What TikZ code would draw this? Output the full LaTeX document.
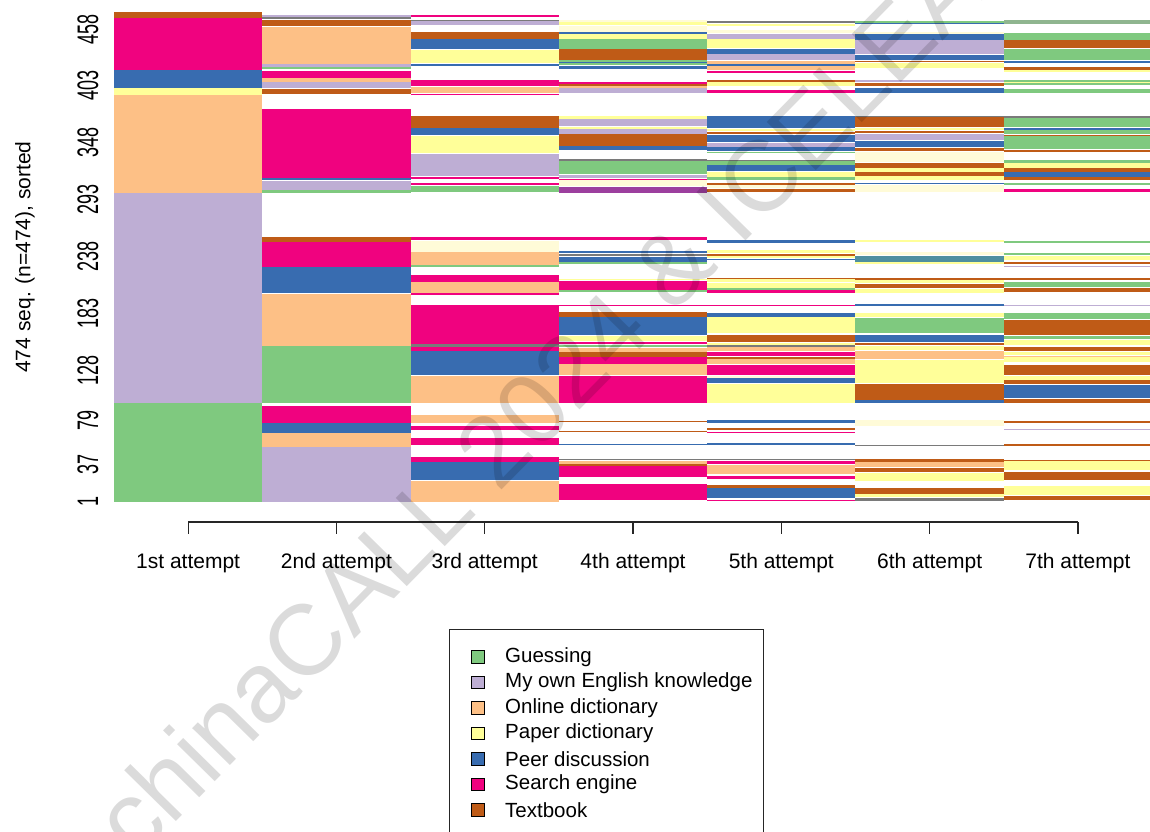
\documentclass[tikz,border=0pt]{standalone}
\usepackage{fontspec}
\setmainfont{Liberation Sans}
\usepackage{graphicx}
% state palette (RColorBrewer "Accent")
\definecolor{gue}{HTML}{7FC97F}
\definecolor{own}{HTML}{BEAED4}
\definecolor{onl}{HTML}{FDC086}
\definecolor{pap}{HTML}{FFFF99}
\definecolor{pee}{HTML}{386CB0}
\definecolor{sea}{HTML}{F0027F}
\definecolor{tex}{HTML}{BF5B17}
% blended hues of very thin rows
\definecolor{lpa}{HTML}{FFFBD8}
\definecolor{gry}{HTML}{7A7A7A}
\definecolor{vio}{HTML}{9C3F9E}
\definecolor{tea}{HTML}{4F8FA0}
\definecolor{ggr}{HTML}{8FB58F}
% one column of the sequence index plot: #1 = position 0..6, #2 = top/bottom/state
\newcommand\seqcol[2]{%
  \foreach \ya/\yb/\cc in {#2}{%
    \fill[\cc] ({114+148.29*#1},\ya) rectangle ({114+148.29*(#1+1)},\yb);}}
\newcommand\ylab[2]{\node[ytick] (y#1) at (88,{502-(#1-0.5)*1.0338}) {\scalebox{1}[1.65]{#1}};}
\tikzset{
  ytick/.style={rotate=90, inner sep=0pt, font=\fontsize{18}{18}\selectfont},
  xtick/.style={font=\fontsize{21}{24}\selectfont, inner sep=0pt},
  axisline/.style={line width=1.2pt, draw=black!85},
  keybox/.style={draw=black, line width=0.9pt, minimum width=13pt, minimum height=12.5pt, inner sep=0pt},
  keytext/.style={anchor=west, inner sep=0pt, font=\fontsize{20.5}{22}\selectfont},
}
\begin{document}
\begin{tikzpicture}[x=1pt,y=-1pt]
\useasboundingbox (0,0) rectangle (1150,831);
\fill[white] (0,0) rectangle (1150,831);

% 1st attempt
\seqcol{0}{12/18/tex, 18/70/sea, 70/88/pee, 88/95/pap, 95/193/onl, 193/403/own, 403/502/gue}
% 2nd attempt
\seqcol{1}{15/17/own, 17/18.5/gry, 19.5/26/tex, 27/64/onl, 64/67/own, 67/69/gue, 71/78/sea, 78/82/onl,
  82/88/own, 89/94/tex, 109/178/sea, 178/180/pee, 181/190/own, 190/193/gue,
  237/242/tex, 242/267/sea, 267/293/pee, 294/346/onl, 346/403/gue,
  406/423/sea, 423/433/pee, 433/447/onl, 447/502/own}
% 3rd attempt
\seqcol{2}{15/16.5/sea, 19.5/21/gry, 21/25/own, 32/39/tex, 39/49/pee, 50/63/pap, 64/66/pee, 80/86/sea,
  86.5/93/onl, 93.5/95/sea, 116/128/tex, 128/135/pee, 136/153/pap, 154/176/own, 177/179/sea,
  183/185/sea, 186/192/gue,
  237/240/sea, 241/252/lpa, 252/265/onl, 265/266.5/gue, 275/282/sea, 282/293/onl, 293/294.5/sea,
  305/344/sea, 344/347/gry, 347/351/sea, 351/375/pee, 376/403/onl,
  415/423/onl, 425.5/430/sea, 438/445/sea, 456.5/462/sea, 462/480/pee, 481/502/onl}
% 4th attempt
\seqcol{3}{20/22/lpa, 22/25/pap, 26/32/lpa, 32/34/pee, 34/39/pap, 39/49/gue, 49/60/tex, 60/61.5/gue,
  62/63/pee, 63/65/gue, 66/69/pee, 82/83.5/sea, 83.5/86/tex, 86/88/onl, 88/93/own,
  116/118.5/pap, 119/126/own, 127/129/pap, 129/134/own, 134/146/tex, 146/150/pee,
  159/161/gry, 161/174/gue, 175/178/own, 179/180/sea, 180/186/lpa, 187/193/vio,
  237/239.5/sea, 251/253/pee, 254/256/gry, 257/262/pee, 262/264/gue, 279/280/pap, 281/290/sea,
  290/292/gue, 304.5/306/sea, 312/317/tex, 317/335/pee, 336/341/pap, 342/344/sea, 345/347/gue,
  348/352/onl, 352/357/tex, 357/364/sea, 364/375/onl, 376/403/sea,
  420.5/422/tex, 431/432/tex, 443.5/445/pee, 459/460/gry, 461/464/onl, 464/466/tex,
  466/477/sea, 484/500/sea}
% 5th attempt
\seqcol{4}{21/22.5/gry, 23.5/26/pap, 30/33/lpa, 34/39/own, 39/48/pap, 49/54/pee, 54/60/own, 61/64/onl,
  64/65.5/pee, 66/70/onl, 71/72.5/sea, 80/81.5/tex, 81.5/86/pap, 89.5/92.5/sea,
  116/128/pee, 129/131/pap, 132/134/tex, 135/142/pee, 143/147/own, 147/151/pee, 151.5/153/gue,
  160/161/gry, 161/165/gue, 165/171/pee, 172/177/pap, 177/180/gue, 183/185/tex, 185/188/lpa,
  189/192/tex,
  240/243/pee, 250/253/pap, 253.5/256/tex, 256/258/pap, 258.5/260/pee, 278/279/tex, 279/282/pap,
  283/288/pap, 288/290/gue, 290/293/sea, 304.5/306/sea, 313/317/pee, 317/333/pap, 335/342/tex,
  343/344.5/pap, 345/347/gry, 347/351/onl, 352/356/sea, 357/359/tex, 359/364/onl, 365/375/sea,
  376/378/lpa, 378/383/pee, 384/403/pap, 420/423/pee, 428/430/tex, 431.5/433/sea, 443/445/pee,
  459/460/gry, 461/464/sea, 465/474/onl, 476/479/sea, 485/488/tex, 488/498/pee, 499.5/501/sea}
% 6th attempt
\seqcol{5}{21/22.5/gue, 22.5/24/pee, 32/34/lpa, 34/40/pee, 40/54/own, 55/60/pee, 60.5/62/tex, 63/68/pap,
  80/82/own, 83/86/tex, 88/93/pee, 116/117/gry, 117/127/tex, 128/130/pap, 131/133/tex,
  134/140/own, 141/147/pee, 148/151/tex, 152/162/lpa, 163/168/tex, 168/172/pap, 172/176/tex,
  176/180/pap, 182.5/184/pee, 185/192/lpa,
  240/242/pap, 252/255/lpa, 256/262/tea, 262/264/pap, 278/279.5/tex, 280/283/pap, 284/288/tex,
  289/293/pap, 304/305.5/pee, 313/317/pap, 318/333/gue, 335/342/pee, 343/345/tex, 346/350/pap,
  351/359/onl, 360/383/pap, 384/400/tex, 400/403/pee, 420/426/lpa, 445/446/gry,
  459/462/tex, 462/467/onl, 468/472/tex, 473/481/pap, 488/494/tex, 494/497/pap, 498/501/gry}
% 7th attempt
\seqcol{6}{20/24/ggr, 33/40/gue, 40/48/tex, 49/60/gue, 61/63/pee, 67/70/tex, 70/72/pap, 80/81.5/gue,
  82/83/pap, 83/85/gue, 89/93/gue, 116/118/gry, 118/127/gue, 128/129.5/pee, 130/134/gue,
  135/136/tex, 136/149/gue, 150/152/tex, 160/163/gue, 163/168/pap, 168/172/tex, 172/177/pee,
  177/180/tex, 183/185/gue, 189/192/sea,
  241/243/gue, 253/255/gue, 256/260/pap, 262/264/tex, 266/267/own, 278/280/tex, 282/287/gue,
  288/292/tex, 305/306/own, 313/319/gue, 320/335/tex, 336/339/gue, 340/345/pap, 347/351/tex,
  352/355/pap, 356/357/onl, 357/362/pap, 365/375/tex, 376/380/pap, 380/384/tex, 385/398/pee,
  399/403/tex, 421/423/tex, 429/430/own, 444/446/tex, 460/461/tex, 461/470/pap, 472/480/tex,
  486/495/pap, 496/500/tex}

% y axis: tick labels and title
\foreach \s in {1,37,79,128,183,238,293,348,403,458}{\ylab{\s}}
\node[rotate=90, inner sep=0pt, font=\fontsize{21}{21}\selectfont] (ytitle) at (25,257) {474 seq. (n=474), sorted};

% x axis
\coordinate (xa0) at (188.1,522);
\coordinate (xa6) at (1077.9,522);
\draw[axisline] (xa0) -- (xa6);
\foreach \i/\t in {0/1st,1/2nd,2/3rd,3/4th,4/5th,5/6th,6/7th}{
  \coordinate (tk\i) at ({114+148.29*(\i+0.5)},522);
  \draw[axisline] (tk\i) -- ++(0,12);
  \node[xtick] (xl\i) at ({114+148.29*(\i+0.5)},563) {\t\ attempt};
}

% legend
\node[draw=black!85, line width=1.2pt, minimum width=314pt, minimum height=230pt, anchor=north west, inner sep=0pt] (legend) at (449,629) {};
\foreach \k/\cc/\t in {0/gue/Guessing, 1/own/My own English knowledge, 2/onl/Online dictionary,
    3/pap/Paper dictionary, 4/pee/Peer discussion, 5/sea/Search engine, 6/tex/Textbook}{
  \node[keybox, fill=\cc] (key\k) at (478,{657+25.5*\k}) {};
  \node[keytext] (lab\k) at (505,{657+25.5*\k}) {\t};
}

% watermark
\begin{scope}
\clip (0,0) rectangle (1150,831);
\node[rotate=45.5, anchor=base west, inner sep=0pt, text=black, text opacity=0.14,
  font=\fontsize{100}{100}\selectfont] (wm) at (136,862) {chinaCALL 2024 \& ICELEAL 2024};
\end{scope}
\end{tikzpicture}
\end{document}
